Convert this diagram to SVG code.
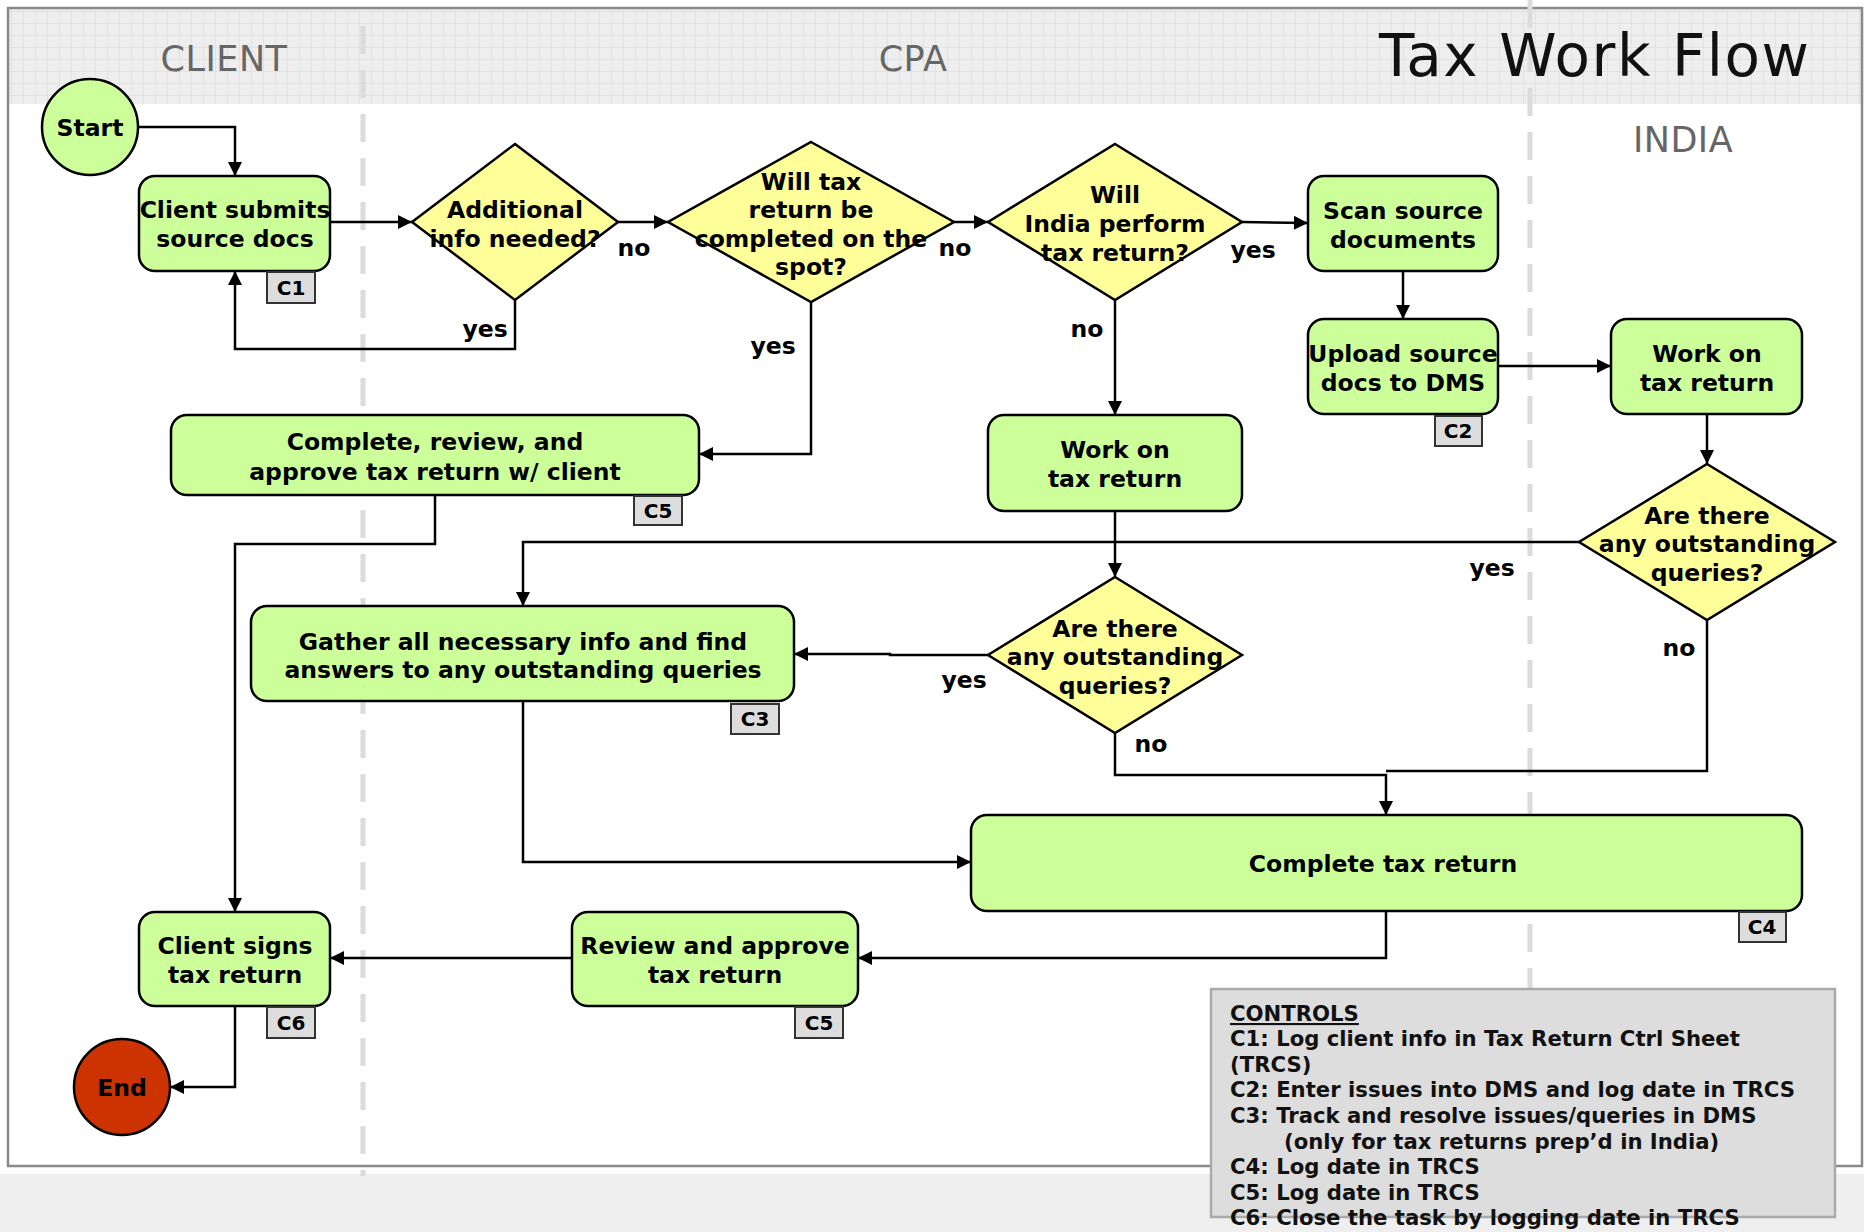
<svg xmlns="http://www.w3.org/2000/svg" width="1864" height="1232" viewBox="0 0 1864 1232">
<defs>
<pattern id="grid" width="12" height="12" patternUnits="userSpaceOnUse">
<rect width="12" height="12" fill="#eeeeee"/>
<path d="M11.5 0V12M0 11.5H12" stroke="#e2e2e2" stroke-width="1" fill="none"/>
</pattern>
<marker id="arr" viewBox="0 0 10 10" refX="10" refY="5" markerWidth="16" markerHeight="14" markerUnits="userSpaceOnUse" orient="auto"><path d="M0,0 L10,5 L0,10 z" fill="#000"/></marker>
</defs>
<style>
.proc{fill:#ccff99;stroke:#000;stroke-width:2.5}
.dec{fill:#ffff99;stroke:#000;stroke-width:2.5}
.t{font-family:"DejaVu Sans",Verdana,sans-serif;font-weight:bold;font-size:23.5px;fill:#000;text-anchor:middle}
.tag rect{fill:#dddddd;stroke:#333;stroke-width:2}
.tag text{font-family:"DejaVu Sans",Verdana,sans-serif;font-weight:bold;font-size:20px;fill:#000;text-anchor:middle}
.lane{font-family:"DejaVu Sans",Verdana,sans-serif;font-size:35px;fill:#666;text-anchor:middle;letter-spacing:0.5px}
.conn path{fill:none;stroke:#000;stroke-width:2.5}
.arrow{marker-end:url(#arr)}
.dash{stroke:#dcdcdc;stroke-width:5;stroke-dasharray:28 16;fill:none}
.ctl{font-family:"DejaVu Sans",Verdana,sans-serif;font-weight:bold;font-size:21.2px;fill:#111}
</style>

<!-- background -->
<rect x="0" y="0" width="1864" height="1232" fill="#ffffff"/>
<rect x="0" y="1174" width="1864" height="58" fill="#efefef"/>
<rect x="8" y="8" width="1854" height="96" fill="url(#grid)"/>
<rect x="8" y="8" width="1854" height="1158" fill="none" stroke="#8a8a8a" stroke-width="2.5"/>
<path class="dash" d="M363 26V1176"/>
<path class="dash" d="M1530 0V989"/>

<text class="lane" x="224" y="71">CLIENT</text>
<text class="lane" x="913" y="71">CPA</text>
<text class="lane" x="1683" y="152">INDIA</text>
<text x="1379" y="76" font-family="DejaVu Sans, Verdana, sans-serif" font-size="58" letter-spacing="1.5" fill="#111">Tax Work Flow</text>

<!-- connectors -->
<g id="connectors" class="conn">
<path class="arrow" d="M139 127H235V176"/>
<path class="arrow" d="M330 222H412"/>
<path class="arrow" d="M515 300V349H235V271"/>
<path class="arrow" d="M618 222H668"/>
<path class="arrow" d="M954 222H988"/>
<path class="arrow" d="M1242 222L1308 223"/>
<path class="arrow" d="M1403 271V319"/>
<path class="arrow" d="M1498 366H1611"/>
<path class="arrow" d="M1707 414V464"/>
<path class="arrow" d="M811 302V454H699"/>
<path class="arrow" d="M1115 300V415"/>
<path class="arrow" d="M1115 511V577"/>
<path class="arrow" d="M1579 542H523V606"/>
<path class="arrow" d="M988 655H890V654H794"/>
<path class="arrow" d="M1115 733V775H1386V815"/>
<path d="M1707 620V771H1386"/>
<path class="arrow" d="M523 701V862H971"/>
<path class="arrow" d="M435 495V544H235V912"/>
<path class="arrow" d="M1386 911V958H858"/>
<path class="arrow" d="M572 958H330"/>
<path class="arrow" d="M235 1006V1087H170"/>
<g class="t">
<text x="485" y="337">yes</text>
<text x="634" y="256">no</text>
<text x="955" y="256">no</text>
<text x="1253" y="258">yes</text>
<text x="773" y="354">yes</text>
<text x="1087" y="337">no</text>
<text x="1492" y="576">yes</text>
<text x="964" y="688">yes</text>
<text x="1151" y="752">no</text>
<text x="1679" y="656">no</text>
</g>
</g>

<!-- nodes -->
<g id="start"><ellipse class="proc" cx="90" cy="127" rx="48" ry="48"/><text class="t" x="90" y="136">Start</text></g>

<g id="client-submits"><rect class="proc" x="139" y="176" width="191" height="95" rx="16"/>
<text class="t" x="235" y="218">Client submits</text><text class="t" x="235" y="247">source docs</text></g>
<g id="c1" class="tag"><rect x="267" y="272" width="48" height="31"/><text x="291" y="295">C1</text></g>

<g id="additional-info"><polygon class="dec" points="515,144 618,222 515,300 412,222"/>
<text class="t" x="515" y="218">Additional</text><text class="t" x="515" y="247">info needed?</text></g>

<g id="will-tax"><polygon class="dec" points="811,142 954,222 811,302 668,222"/>
<text class="t" x="811" y="190">Will tax</text><text class="t" x="811" y="218">return be</text><text class="t" x="811" y="247">completed on the</text><text class="t" x="811" y="275">spot?</text></g>

<g id="will-india"><polygon class="dec" points="1115,144 1242,222 1115,300 988,222"/>
<text class="t" x="1115" y="203">Will</text><text class="t" x="1115" y="232">India perform</text><text class="t" x="1115" y="261">tax return?</text></g>

<g id="scan"><rect class="proc" x="1308" y="176" width="190" height="95" rx="16"/>
<text class="t" x="1403" y="219">Scan source</text><text class="t" x="1403" y="248">documents</text></g>

<g id="upload"><rect class="proc" x="1308" y="319" width="190" height="95" rx="16"/>
<text class="t" x="1403" y="362">Upload source</text><text class="t" x="1403" y="391">docs to DMS</text></g>
<g id="c2" class="tag"><rect x="1435" y="416" width="47" height="30"/><text x="1458" y="438">C2</text></g>

<g id="work-india"><rect class="proc" x="1611" y="319" width="191" height="95" rx="16"/>
<text class="t" x="1707" y="362">Work on</text><text class="t" x="1707" y="391">tax return</text></g>

<g id="queries-india"><polygon class="dec" points="1707,464 1835,542 1707,620 1579,542"/>
<text class="t" x="1707" y="524">Are there</text><text class="t" x="1707" y="552">any outstanding</text><text class="t" x="1707" y="581">queries?</text></g>

<g id="complete-review"><rect class="proc" x="171" y="415" width="528" height="80" rx="16"/>
<text class="t" x="435" y="450">Complete, review, and</text><text class="t" x="435" y="480">approve tax return w/ client</text></g>
<g id="c5a" class="tag"><rect x="634" y="496" width="48" height="29"/><text x="658" y="518">C5</text></g>

<g id="work-cpa"><rect class="proc" x="988" y="415" width="254" height="96" rx="16"/>
<text class="t" x="1115" y="458">Work on</text><text class="t" x="1115" y="487">tax return</text></g>

<g id="gather"><rect class="proc" x="251" y="606" width="543" height="95" rx="16"/>
<text class="t" x="523" y="650">Gather all necessary info and find</text><text class="t" x="523" y="678">answers to any outstanding queries</text></g>
<g id="c3" class="tag"><rect x="731" y="704" width="48" height="30"/><text x="755" y="726">C3</text></g>

<g id="queries-cpa"><polygon class="dec" points="1115,577 1242,655 1115,733 988,655"/>
<text class="t" x="1115" y="637">Are there</text><text class="t" x="1115" y="665">any outstanding</text><text class="t" x="1115" y="694">queries?</text></g>

<g id="complete-tax"><rect class="proc" x="971" y="815" width="831" height="96" rx="16"/>
<text class="t" x="1383" y="872">Complete tax return</text></g>
<g id="c4" class="tag"><rect x="1739" y="912" width="47" height="30"/><text x="1762" y="934">C4</text></g>

<g id="client-signs"><rect class="proc" x="139" y="912" width="191" height="94" rx="16"/>
<text class="t" x="235" y="954">Client signs</text><text class="t" x="235" y="983">tax return</text></g>
<g id="c6" class="tag"><rect x="267" y="1007" width="48" height="31"/><text x="291" y="1030">C6</text></g>

<g id="review"><rect class="proc" x="572" y="912" width="286" height="94" rx="16"/>
<text class="t" x="715" y="954">Review and approve</text><text class="t" x="715" y="983">tax return</text></g>
<g id="c5b" class="tag"><rect x="795" y="1007" width="48" height="31"/><text x="819" y="1030">C5</text></g>

<g id="end"><ellipse cx="122" cy="1087" rx="48" ry="48" fill="#cc3300" stroke="#000" stroke-width="2.5"/><text class="t" x="122" y="1096">End</text></g>

<g id="controls">
<rect x="1211" y="989" width="624" height="228" fill="#dddddd" stroke="#aaaaaa" stroke-width="2.5"/>
<text class="ctl" x="1230" y="1021" text-decoration="underline">CONTROLS</text>
<text class="ctl" x="1230" y="1046">C1: Log client info in Tax Return Ctrl Sheet</text>
<text class="ctl" x="1230" y="1072">(TRCS)</text>
<text class="ctl" x="1230" y="1097">C2: Enter issues into DMS and log date in TRCS</text>
<text class="ctl" x="1230" y="1123">C3: Track and resolve issues/queries in DMS</text>
<text class="ctl" x="1284" y="1149">(only for tax returns prep’d in India)</text>
<text class="ctl" x="1230" y="1174">C4: Log date in TRCS</text>
<text class="ctl" x="1230" y="1200">C5: Log date in TRCS</text>
<text class="ctl" x="1230" y="1225">C6: Close the task by logging date in TRCS</text>
</g>
</svg>
